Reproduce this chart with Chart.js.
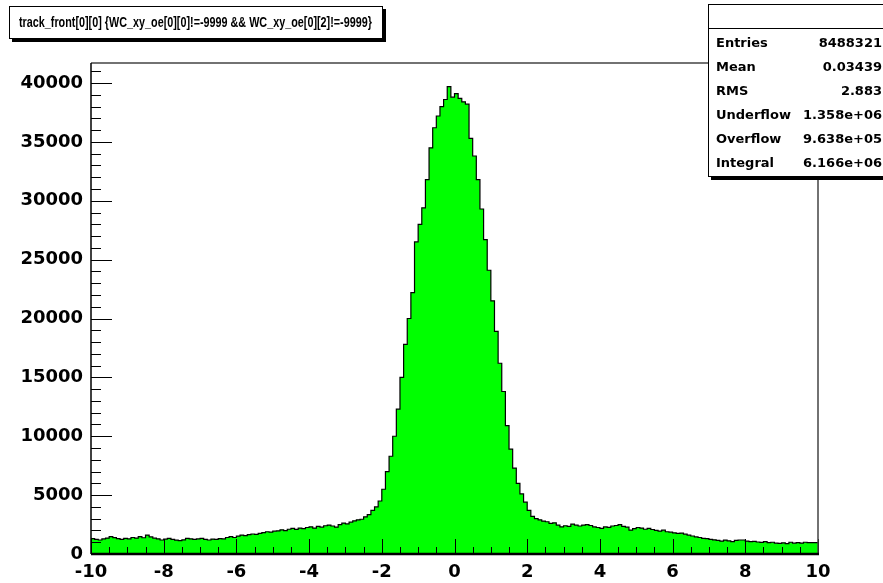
<!DOCTYPE html>
<html>
<head>
<meta charset="utf-8">
<script src="https://cdn.jsdelivr.net/npm/chart.js@4.4.1/dist/chart.umd.min.js"></script>
<style>
  html, body { margin: 0; padding: 0; background: #fff; }
  #wrap { position: relative; width: 883px; height: 583px; overflow: hidden; }
  #histo { position: absolute; left: 0; top: 0; }
  .pave {
    position: absolute; background: #fff; border: 1px solid #000;
    box-shadow: 3px 3px 0 #000; color: #000;
    font-family: "DejaVu Sans", sans-serif; font-weight: bold;
  }
  #title { left: 9px; top: 6px; width: 372px; height: 31px; }
  #title span {
    position: absolute; left: 9px; top: 6px; white-space: nowrap;
    font-family: "Liberation Sans", Arial, sans-serif; font-size: 15px;
    transform: scaleX(0.72); transform-origin: left top;
  }
  #stats { left: 708px; top: 4px; width: 190px; height: 171px; font-size: 13px; }
  #stats .head { height: 23px; border-bottom: 1px solid #000; }
  #stats .row { position: relative; height: 24px; }
  #stats .row .k { position: absolute; left: 7px; top: 6px; }
  #stats .row .v { position: absolute; right: 17px; top: 6px; }
</style>
</head>
<body>
<div id="wrap">
  <canvas id="histo" width="883" height="583"></canvas>
  <div class="pave" id="title"><span id="titleText"></span></div>
  <div class="pave" id="stats"><div class="head"></div></div>
</div>
<script>
// histogram title and stats box
const histTitle = 'track_front[0][0] {WC_xy_oe[0][0]!=-9999 && WC_xy_oe[0][2]!=-9999}';
const statNames = ['Entries', 'Mean', 'RMS', 'Underflow', 'Overflow', 'Integral'];
const statValues = ['8488321', '0.03439', '2.883', '1.358e+06', '9.638e+05', '6.166e+06'];

// binning: 200 bins from -10 to 10
const binLow = -10;
const binWidth = 0.1;

// bin contents
const counts = [
  1380, 1300, 1250, 1190, 1280, 1350, 1470, 1390, 1300, 1250,
  1320, 1280, 1400, 1350, 1470, 1380, 1610, 1450, 1340, 1290,
  1190, 1260, 1320, 1240, 1180, 1130, 1200, 1330, 1290, 1250,
  1280, 1330, 1250, 1190, 1270, 1250, 1310, 1280, 1400, 1470,
  1400, 1520, 1610, 1560, 1640, 1700, 1660, 1750, 1820, 1890,
  1860, 1940, 1970, 2050, 1980, 2100, 2180, 2090, 2200, 2150,
  2250, 2310, 2200, 2350, 2280, 2400, 2460, 2380, 2290, 2500,
  2630, 2550, 2700, 2820, 2900, 2950, 3160, 3350, 3700, 4000,
  4500, 5500, 7000, 8300, 10000, 12300, 15000, 17800, 20000, 22200,
  26500, 28000, 29400, 31800, 34500, 36200, 37200, 38000, 38600, 39700,
  38800, 39100, 38700, 38400, 38200, 35300, 33800, 31800, 29300, 26700,
  24100, 21500, 18900, 16200, 13800, 10900, 8900, 7300, 6000, 5100,
  4400, 3700, 3200, 3000, 2900, 2800, 2740, 2600, 2650, 2450,
  2310, 2400, 2350, 2540, 2450, 2380, 2460, 2500, 2420, 2300,
  2250, 2180, 2300, 2260, 2380, 2420, 2500, 2350, 2280, 2030,
  2150, 2250, 2200, 2100, 2180, 2080, 2000, 1950, 2020, 1890,
  1850, 1800, 1750, 1780, 1680, 1600, 1530, 1450, 1400, 1330,
  1300, 1250, 1200, 1150, 1100, 1180, 1120, 1050, 1150, 1190,
  1190, 1100, 1050, 1080, 1020, 990, 1050, 960, 1000, 920,
  900, 950, 880, 1000, 920, 960, 930, 1000, 960, 960
];

// axis ticks
const xMajor = [-10, -8, -6, -4, -2, 0, 2, 4, 6, 8, 10];
const yMajor = [0, 5000, 10000, 15000, 20000, 25000, 30000, 35000, 40000];
const xMinorStep = 0.5;
const yMinorStep = 1000;
const yMax = 41700;

// fill in the html boxes
document.getElementById('titleText').textContent = histTitle;
const statsBox = document.getElementById('stats');
statNames.forEach((name, i) => {
  const row = document.createElement('div');
  row.className = 'row';
  row.innerHTML = '<span class="k"></span><span class="v"></span>';
  row.querySelector('.k').textContent = name;
  row.querySelector('.v').textContent = statValues[i];
  statsBox.appendChild(row);
});

// step points at the bin edges
const points = counts.map((c, i) => ({ x: binLow + i * binWidth, y: c }));
points.push({ x: binLow + counts.length * binWidth, y: counts[counts.length - 1] });

// ROOT style frame with ticks drawn inside
const rootFrame = {
  id: 'rootFrame',
  afterDatasetsDraw(chart) {
    const { ctx, chartArea: a, scales: { x, y } } = chart;
    ctx.save();
    ctx.strokeStyle = '#000';
    ctx.lineWidth = 1;
    ctx.beginPath();
    for (let v = xMajor[0]; v <= xMajor[xMajor.length - 1] + 1e-9; v += xMinorStep) {
      const px = Math.round(x.getPixelForValue(v)) + 0.5;
      const major = xMajor.some(m => Math.abs(m - v) < 1e-6);
      ctx.moveTo(px, a.bottom);
      ctx.lineTo(px, a.bottom - (major ? 15 : 7));
    }
    for (let v = 0; v <= yMax; v += yMinorStep) {
      const py = Math.round(y.getPixelForValue(v)) + 0.5;
      const major = v % 5000 === 0;
      ctx.moveTo(a.left, py);
      ctx.lineTo(a.left + (major ? 21 : 10), py);
    }
    ctx.stroke();
    // top and right edges
    ctx.strokeStyle = '#444';
    ctx.lineWidth = 1.5;
    ctx.beginPath();
    ctx.moveTo(a.left, a.top);
    ctx.lineTo(a.right, a.top);
    ctx.lineTo(a.right, a.bottom);
    ctx.stroke();
    // axis lines
    ctx.strokeStyle = '#000';
    ctx.lineWidth = 1.5;
    ctx.beginPath();
    ctx.moveTo(a.left, a.top);
    ctx.lineTo(a.left, a.bottom);
    ctx.stroke();
    ctx.lineWidth = 2.5;
    ctx.beginPath();
    ctx.moveTo(a.left, a.bottom);
    ctx.lineTo(a.right + 1, a.bottom);
    ctx.stroke();
    ctx.restore();
  }
};

const labelFont = { family: 'DejaVu Sans', size: 18, weight: 'bold' };

new Chart(document.getElementById('histo'), {
  type: 'line',
  data: {
    datasets: [{
      data: points,
      stepped: 'after',
      fill: 'origin',
      backgroundColor: '#00ff00',
      borderColor: '#000',
      borderWidth: 1.2,
      pointRadius: 0
    }]
  },
  options: {
    responsive: false,
    animation: false,
    layout: { padding: { top: 63, right: 65, left: 0, bottom: 0 } },
    plugins: { legend: { display: false }, tooltip: { enabled: false } },
    scales: {
      x: {
        type: 'linear',
        min: xMajor[0],
        max: xMajor[xMajor.length - 1],
        afterBuildTicks: s => { s.ticks = xMajor.map(v => ({ value: v })); },
        afterFit: s => { s.height = 29; },
        grid: { display: false },
        border: { display: false },
        ticks: { color: '#000', font: labelFont, padding: 0, maxRotation: 0, autoSkip: false,
                 callback: v => String(v) }
      },
      y: {
        min: 0,
        max: yMax,
        afterBuildTicks: s => { s.ticks = yMajor.map(v => ({ value: v })); },
        afterFit: s => { s.width = 91; },
        grid: { display: false },
        border: { display: false },
        ticks: { color: '#000', font: labelFont, padding: 0, callback: v => String(v) }
      }
    }
  },
  plugins: [rootFrame]
});
</script>
</body>
</html>
